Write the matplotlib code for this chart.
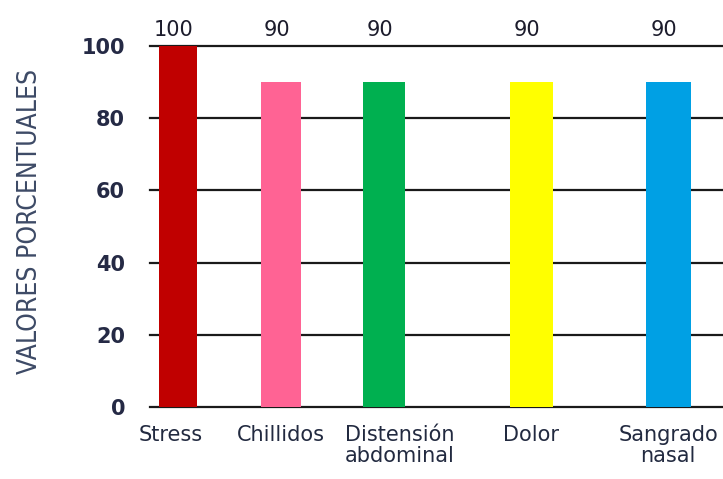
import matplotlib.pyplot as plt
from matplotlib.transforms import ScaledTranslation

sintomas = ["Stress", "Chillidos", "Distensión\nabdominal", "Dolor", "Sangrado\nnasal"]
valores = [100, 90, 90, 90, 90]
colores = ["#C00000", "#FF6394", "#00B050", "#FFFF00", "#00A0E4"]
yticks = [0, 20, 40, 60, 80, 100]

# bar spacing is uneven in this layout
xpos = [0, 1, 2, 3.43, 4.76]
anchos = [0.37, 0.38, 0.41, 0.42, 0.44]

fig = plt.figure(figsize=(7.23, 4.79), dpi=100)
ax = fig.add_axes([150 / 723, 72 / 479, 1 - 150 / 723, 361 / 479])

for y in yticks:
    ax.axhline(y, color="#1a1a1a", lw=1.6, zorder=1, clip_on=False)

ax.bar(xpos, valores, width=anchos, color=colores, zorder=2)

for x, v in zip(xpos, valores):
    ax.annotate(str(v), (x, 100), xytext=(-3, 4), textcoords="offset points",
                ha="center", va="bottom", fontsize=15, color="#1c1c2c",
                annotation_clip=False)

ax.set_xlim(-0.272, 5.291)
ax.set_ylim(0, 100)
ax.set_yticks(yticks)
ax.set_yticklabels([str(t) for t in yticks], fontsize=15, fontweight="bold",
                   color="#252a45")
ax.set_xticks(xpos)
ax.set_xticklabels(sintomas, fontsize=15, color="#222a40", linespacing=1.05)
ax.tick_params(axis="y", length=0, pad=18)
ax.tick_params(axis="x", length=0, pad=13)

# nudge the first and third labels sideways
lbl = ax.get_xticklabels()[2]
lbl.set_transform(lbl.get_transform() + ScaledTranslation(0.16, 0, fig.dpi_scale_trans))
lbl = ax.get_xticklabels()[0]
lbl.set_transform(lbl.get_transform() + ScaledTranslation(-0.07, 0, fig.dpi_scale_trans))

for s in ax.spines.values():
    s.set_visible(False)

fig.text(30 / 723, 258 / 479, "VALORES PORCENTUALES", rotation=90, ha="center", va="center",
         fontsize=19, color="#3d4a66",
         family=["Liberation Sans Narrow", "DejaVu Sans"], fontstretch="condensed")

fig.savefig("out.png", dpi=100)
